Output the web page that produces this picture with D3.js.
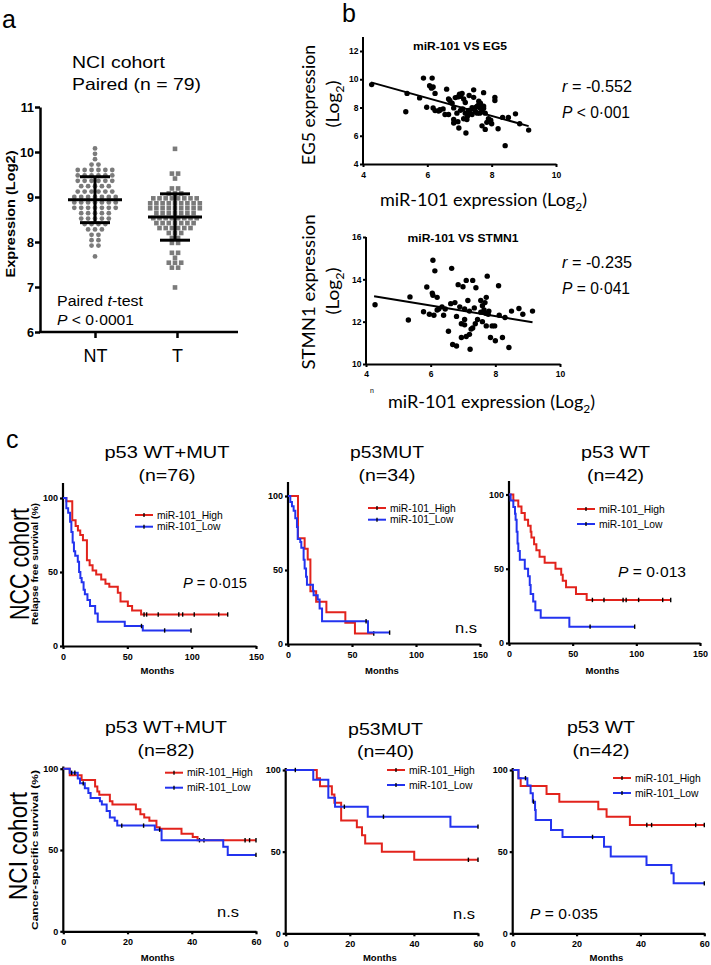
<!DOCTYPE html>
<html>
<head>
<meta charset="utf-8">
<script src="https://cdn.jsdelivr.net/npm/d3@7"></script>
<style>
  body { margin: 0; background: #fff; }
  svg { display: block; }
</style>
</head>
<body>
<script>
// ---------- panel a : paired expression, NCI cohort ----------
var groups = ["NT", "T"];
var groupMean = [8.94, 8.555];
var groupSD = [0.51, 0.515];
var yTicksA = [6, 7, 8, 9, 10, 11];

var ntValues = [10.1, 9.95, 9.83, 9.7, 9.74,
  9.58, 9.61, 9.6, 9.62, 9.57, 9.59,
  9.47, 9.5, 9.45, 9.49, 9.46, 9.51,
  9.35, 9.38, 9.33, 9.37, 9.36, 9.34,
  9.24, 9.22, 9.26, 9.23, 9.25,
  9.12, 9.1, 9.14, 9.11, 9.13, 9.15,
  8.99, 9.01, 9.02, 8.98, 9.0, 9.03, 8.97,
  8.87, 8.89, 8.86, 8.9, 8.88, 8.85, 8.91,
  8.77, 8.75, 8.78, 8.74, 8.76, 8.79, 8.73,
  8.65, 8.63, 8.66, 8.62, 8.64,
  8.52, 8.54, 8.5, 8.53, 8.51,
  8.4, 8.41, 8.38, 8.42,
  8.28, 8.3, 8.27,
  8.16, 8.17,
  8.04, 8.05,
  7.9, 7.93,
  7.64];

var tValues = [10.05,
  9.55, 9.53,
  9.38,
  9.2, 9.18,
  9.1, 9.07, 9.09,
  8.95, 8.97, 8.99, 8.96, 8.98, 8.94, 9.0, 8.97,
  8.85, 8.87, 8.84, 8.86, 8.88, 8.83, 8.86, 8.89, 8.85,
  8.74, 8.76, 8.73, 8.75, 8.77, 8.72, 8.75, 8.78, 8.74,
  8.63, 8.65, 8.62, 8.64, 8.66, 8.61, 8.64,
  8.52, 8.54, 8.51, 8.53, 8.55, 8.5, 8.53, 8.56,
  8.41, 8.43, 8.4, 8.42, 8.44, 8.39, 8.42,
  8.3, 8.32, 8.29, 8.31, 8.33, 8.3,
  8.2, 8.18, 8.21,
  8.08, 8.1,
  7.97, 7.99,
  7.75, 7.77,
  7.64,
  7.53, 7.55, 7.52,
  7.42, 7.44,
  6.98];

// ---------- panel b : correlations ----------
var xTicksB = [4, 6, 8, 10];
var eg5Ticks = [4, 6, 8, 10, 12];
var stmn1Ticks = [10, 12, 14, 16];

var eg5Points = [[4.27, 9.62], [5.37, 9.0], [5.33, 7.7], [5.76, 8.68], [5.88, 10.08], [6.15, 10.08],
  [5.98, 8.02], [6.07, 9.54], [6.13, 9.37], [6.18, 9.45], [6.24, 9.0], [6.24, 7.78], [6.18, 7.97],
  [6.39, 7.85], [6.6, 9.3], [6.66, 8.6], [6.55, 7.5], [6.66, 7.5], [6.82, 7.97], [6.87, 8.7],
  [6.92, 7.6], [7.03, 8.8], [7.08, 9.0], [7.13, 8.6], [7.18, 8.35], [6.98, 6.55], [6.82, 7.15],
  [6.82, 6.9], [7.2, 6.2], [7.23, 7.15], [7.13, 7.2], [7.44, 9.25], [7.3, 8.85], [7.44, 8.72],
  [7.28, 7.8], [7.33, 7.6], [7.39, 7.98], [7.55, 8.1], [7.6, 8.45], [7.65, 8.3], [7.7, 7.8],
  [7.75, 8.1], [7.75, 9.05], [7.63, 7.6], [7.7, 6.7], [7.8, 6.45], [7.85, 6.95], [7.75, 7.95],
  [7.9, 7.2], [7.97, 7.1], [8.0, 6.85], [8.1, 8.72], [8.1, 8.5], [8.2, 6.5], [8.34, 7.3],
  [8.42, 5.3], [8.52, 7.3], [8.74, 7.55], [8.87, 6.85], [9.15, 6.4], [7.39, 7.5], [7.5, 7.7],
  [6.95, 7.0], [7.18, 7.6], [7.03, 7.8], [6.39, 7.8], [6.77, 8.3], [6.49, 7.9], [7.55, 7.6],
  [7.8, 7.6], [7.0, 8.95], [7.5, 8.0], [7.65, 7.95], [6.35, 7.75], [7.25, 7.4], [7.6, 8.2],
  [6.95, 8.75], [7.1, 7.9], [6.7, 8.5]];
var eg5Fit = [[4.25, 9.78], [9.15, 6.68]];

var stmn1Points = [[4.28, 12.8], [5.31, 12.08], [5.36, 13.17], [5.78, 12.47], [5.88, 13.64], [5.96, 12.35],
  [6.05, 13.35], [6.07, 13.25], [6.07, 14.9], [6.13, 14.4], [6.1, 12.3], [6.2, 13.15], [6.2, 12.55],
  [6.25, 12.6], [6.35, 12.7], [6.4, 12.3], [6.45, 12.6], [6.55, 11.55], [6.62, 12.85], [6.65, 14.52],
  [6.68, 10.92], [6.75, 12.9], [6.8, 12.25], [6.8, 10.85], [6.85, 13.75], [6.9, 12.7], [6.95, 11.9],
  [6.95, 11.25], [7.0, 13.65], [7.05, 12.6], [7.05, 12.1], [7.05, 11.85], [7.1, 13.95], [7.1, 11.3],
  [7.15, 13.0], [7.2, 12.5], [7.2, 11.4], [7.22, 10.7], [7.25, 11.65], [7.3, 13.95], [7.3, 11.7],
  [7.35, 12.65], [7.38, 11.9], [7.4, 13.6], [7.45, 12.1], [7.55, 12.45], [7.55, 13.0], [7.6, 12.75],
  [7.6, 12.0], [7.65, 12.55], [7.68, 12.9], [7.7, 12.4], [7.72, 13.15], [7.72, 11.8], [7.75, 14.15],
  [7.78, 12.35], [7.8, 12.5], [7.85, 11.25], [7.9, 11.8], [7.98, 11.8], [8.0, 11.1], [8.1, 13.7],
  [8.12, 12.3], [8.22, 11.25], [8.3, 12.2], [8.42, 10.78], [8.5, 12.5], [8.73, 12.62], [8.85, 12.35],
  [9.15, 12.5]];
var stmn1Fit = [[4.25, 13.2], [9.15, 11.97]];

// ---------- panel c : Kaplan-Meier, [month, survival %] steps ----------
var legendLabels = ["miR-101_High", "miR-101_Low"];
var survTicks = [0, 50, 100];
var nccMonthTicks = [0, 50, 100, 150];
var nciMonthTicks = [0, 20, 40, 60];

var nccAllHigh = [[0, 100], [2.6, 97.8], [7.2, 85], [9.8, 81], [11.6, 78], [13.4, 75], [15.5, 71.5], [18.6, 58],
  [20.7, 54.6], [23, 51], [25.8, 48.3], [29.7, 45], [33, 42], [36, 40], [42.6, 36], [44.7, 30],
  [50.4, 27], [53.7, 24], [60.7, 21.3]];
var nccAllHighCens = [63, 65, 74, 90, 93, 102, 121, 128];
var nccAllLow = [[0, 100], [2.6, 93], [4, 90], [5.5, 84], [6.5, 77], [7.5, 70], [8.5, 64], [9.5, 61],
  [11.5, 57], [12.5, 50], [13.5, 46], [14.5, 43], [16, 38], [17, 35], [19, 31], [21, 27], [25, 22],
  [27, 16.4], [48, 13.5], [62, 10.5]];
var nccAllLowCens = [61, 79, 99.5];

var nccMutHigh = [[0, 100], [7.8, 71.4], [13, 64.3], [15.4, 57.1], [17.5, 35.7], [22, 28.6], [30, 21.4],
  [44.8, 14.3], [52.3, 7.1]];
var nccMutHighCens = [67];
var nccMutLow = [[0, 100], [1.8, 96], [3.1, 93], [4.4, 90], [5.7, 85], [7, 79], [7.6, 71], [9.6, 69],
  [10.4, 65], [12.2, 57], [13, 51], [14.1, 45.5], [14.8, 40], [19.5, 36], [20, 33], [23.2, 30],
  [24.7, 24], [26.6, 15.4], [62.5, 7.7]];
var nccMutLowCens = [61, 79.4];

var nccWtHigh = [[0, 100], [3.4, 96], [7.3, 92], [9.8, 87.5], [12.4, 83], [15, 79], [17, 75], [17.6, 71],
  [19.7, 66.5], [21.5, 62.5], [24, 58], [28, 54], [36.5, 50], [41, 46], [42.2, 42], [44.8, 37.5],
  [52.6, 33], [61, 29]];
var nccWtHighCens = [65.5, 74.6, 89.6, 92, 101.8, 120.7, 127];
var nccWtLow = [[0, 100], [1.3, 96], [3.4, 91.5], [4.7, 87], [5.2, 83], [6, 75], [6.7, 67], [7.3, 62],
  [8.5, 56], [12.4, 50], [15, 45], [16.3, 39], [17, 33], [19, 28], [20.7, 22], [24.9, 17], [47.4, 11]];
var nccWtLowCens = [63.7, 98.7];

var nciAllHigh = [[0, 100], [2, 96], [5.7, 93], [9.9, 89], [10.6, 86], [11.2, 84], [14.5, 80], [15.3, 78],
  [22.6, 75], [24, 72], [25.2, 70], [26.8, 68], [29, 64], [30, 63], [36.8, 60], [40.3, 58], [41.8, 56]];
var nciAllHighCens = [42.4, 43.8, 56.6, 58, 60];
var nciAllLow = [[0, 100], [2, 97.5], [4.5, 94], [5.2, 91], [6.7, 88], [7.8, 85], [8.5, 82], [11.4, 80],
  [12, 78], [13.5, 74], [14.5, 70], [16, 68], [16.8, 65], [28.5, 62.5], [30.6, 56], [49.8, 52], [51.2, 47]];
var nciAllLowCens = [2.6, 3.6, 6.2, 18.2, 25, 30, 60];

var nciMutHigh = [[0, 100], [9.7, 95], [10.7, 90], [14.4, 85], [15.2, 80], [17.3, 69], [22.2, 65],
  [23.8, 60], [24.8, 55], [30, 50], [40.1, 45]];
var nciMutHighCens = [57, 60];
var nciMutLow = [[0, 100], [8.6, 94], [13.3, 83], [15.4, 77.5], [25.6, 71.4], [51.4, 65.3]];
var nciMutLowCens = [3, 18.3, 30.5, 60];

var nciWtHigh = [[0, 100], [1.8, 95], [2.5, 90.2], [10.6, 85.3], [14.6, 80.6], [26.8, 76], [29.4, 71.4],
  [36.7, 66.3]];
var nciWtHighCens = [42, 43.5, 57.3, 60];
var nciWtLow = [[0, 100], [1.8, 95], [4.6, 90.5], [5.6, 85.7], [6.3, 80.6], [7, 75.5], [7.2, 69.4],
  [12, 63.3], [15.6, 59], [28.6, 53], [30.7, 47], [41.9, 41.8], [49.7, 36.7], [50.4, 30.6]];
var nciWtLowCens = [4, 6.5, 25, 60];

// ---------- drawing ----------
var SANS = "'Liberation Sans', Arial, Helvetica, sans-serif";
var CAL = "Lato, 'Open Sans', sans-serif";
var RED = "#e2231c";
var BLUE = "#2333ef";
var GREY = "#7b7b7b";

var svg = d3.select("body").append("svg")
  .attr("width", 711).attr("height", 965);

// parts: string or list of [text, style] where style is "i" (italic) or "sub"
function txt(parent, x, y, parts, o) {
  o = o || {};
  var size = o.size || 12;
  var t = parent.append("text")
    .attr("x", x).attr("y", y)
    .attr("text-anchor", o.anchor || "start")
    .attr("fill", "#000")
    .style("font-family", o.family || SANS)
    .style("font-size", size + "px")
    .style("font-weight", o.bold ? "bold" : "normal");
  if (typeof parts === "string") parts = [[parts]];
  var shifted = false;
  parts.forEach(function(p) {
    var s = t.append("tspan").text(p[0]);
    if (p[1] === "i") s.style("font-style", "italic");
    if (p[1] === "sub") {
      s.style("font-size", (size * 0.66) + "px").attr("dy", size * 0.28);
      shifted = true;
    } else if (shifted) {
      s.attr("dy", -size * 0.28);
      shifted = false;
    }
  });
  if (o.len) t.attr("textLength", o.len).attr("lengthAdjust", "spacingAndGlyphs");
  if (o.rotate) t.attr("transform", "rotate(-90," + x + "," + y + ")");
  return t;
}

function styleAxis(g, sw, fs) {
  g.selectAll("path.domain").attr("stroke-width", sw).attr("stroke", "#000");
  g.selectAll(".tick line").attr("stroke-width", sw).attr("stroke", "#000");
  g.selectAll(".tick text")
    .style("font-family", SANS)
    .style("font-size", fs + "px")
    .style("font-weight", "bold")
    .attr("fill", "#000");
}

// ---- panel letters ----
txt(svg, 2, 28, "a", { size: 25 });
txt(svg, 342, 22, "b", { size: 25 });
txt(svg, 6, 448, "c", { size: 25 });

// ---- panel a ----
(function() {
  var g = svg.append("g");
  var y = d3.scaleLinear().domain([6, 11]).range([332, 107]);
  var x = d3.scalePoint().domain(groups).range([95, 177]);

  txt(g, 72, 68, "NCI cohort", { size: 16.5, len: 93 });
  txt(g, 72, 90, "Paired (n = 79)", { size: 16.5, len: 129 });

  var ay = g.append("g").attr("transform", "translate(40,0)")
    .call(d3.axisLeft(y).tickValues(yTicksA).tickFormat(d3.format("d")).tickSize(5).tickSizeOuter(0).tickPadding(1));
  styleAxis(ay, 2.5, 12.5);

  var ax = g.append("g").attr("transform", "translate(0,332)")
    .call(d3.axisBottom(x).tickSize(6).tickSizeOuter(0).tickPadding(11));
  ax.select(".domain").remove();
  styleAxis(ax, 2.5, 18);
  ax.selectAll(".tick text").style("font-weight", "normal");
  g.append("line").attr("x1", 39).attr("x2", 238).attr("y1", 332).attr("y2", 332)
    .attr("stroke", "#000").attr("stroke-width", 2.5);

  txt(g, 15, 214, [["Expression (Log2)"]], { size: 13, bold: true, anchor: "middle", rotate: true, len: 127 });

  // GraphPad style rows: values binned into rows and spread sideways
  function rows(values, step) {
    var out = [];
    d3.group(values, function(v) { return Math.round((v - 6) / step); }).forEach(function(vals, k) {
      vals.forEach(function(v, i) { out.push({ v: 6 + k * step, off: i - (vals.length - 1) / 2 }); });
    });
    return out;
  }

  g.selectAll("circle.nt").data(rows(ntValues, 0.12)).enter().append("circle")
    .attr("class", "nt")
    .attr("cx", function(d) { return x("NT") + d.off * 6.9; })
    .attr("cy", function(d) { return y(d.v); })
    .attr("r", 2.4).attr("fill", GREY);

  g.selectAll("rect.t").data(rows(tValues, 0.11)).enter().append("rect")
    .attr("class", "t")
    .attr("x", function(d) { return x("T") - 2 + d.off * 6.2 - 2.3; })
    .attr("y", function(d) { return y(d.v) - 2.3; })
    .attr("width", 4.6).attr("height", 4.6).attr("fill", GREY);

  groups.forEach(function(name, i) {
    var cx = name === "T" ? x(name) - 2 : x(name);
    var m = groupMean[i], sd = groupSD[i];
    var bars = [
      [cx - 27, y(m), cx + 27, y(m)],
      [cx - 15, y(m + sd), cx + 15, y(m + sd)],
      [cx - 15, y(m - sd), cx + 15, y(m - sd)],
      [cx, y(m + sd), cx, y(m - sd)]
    ];
    bars.forEach(function(b) {
      g.append("line").attr("x1", b[0]).attr("y1", b[1]).attr("x2", b[2]).attr("y2", b[3])
        .attr("stroke", "#000").attr("stroke-width", 3);
    });
  });

  txt(g, 57, 306, [["Paired "], ["t", "i"], ["-test"]], { size: 15.5, len: 86 });
  txt(g, 57, 325, [["P", "i"], [" < 0\u00b70001"]], { size: 15.5, len: 77 });
})();

// ---- panel b ----
function scatterPanel(pts, fit, ticksY, c) {
  var g = svg.append("g");
  var x = d3.scaleLinear().domain([4, 10]).range([c.x0, c.x1]);
  var y = d3.scaleLinear().domain([ticksY[0], ticksY[ticksY.length - 1]]).range([c.yb, c.yt]);

  var ay = g.append("g").attr("transform", "translate(" + c.x0 + ",0)")
    .call(d3.axisLeft(y).tickValues(ticksY).tickFormat(d3.format("d")).tickSize(3).tickSizeOuter(0).tickPadding(1.5));
  ay.select(".domain").attr("d", "M0," + c.yb + "V" + c.axisTop);
  styleAxis(ay, 2, 8.5);
  var ax = g.append("g").attr("transform", "translate(0," + c.yb + ")")
    .call(d3.axisBottom(x).tickValues(xTicksB).tickFormat(d3.format("d")).tickSize(3).tickSizeOuter(0).tickPadding(c.xPad));
  styleAxis(ax, 2, 8.5);

  g.append("line")
    .attr("x1", x(fit[0][0])).attr("y1", y(fit[0][1]))
    .attr("x2", x(fit[1][0])).attr("y2", y(fit[1][1]))
    .attr("stroke", "#000").attr("stroke-width", 2);

  g.selectAll("circle").data(pts).enter().append("circle")
    .attr("cx", function(d) { return x(d[0]); })
    .attr("cy", function(d) { return y(d[1]); })
    .attr("r", 2.7).attr("fill", "#000");

  txt(g, c.titleX, c.titleY, c.title, { size: 10.7, bold: true, anchor: "middle", len: c.titleLen });
  txt(g, 562, c.rY, [["r", "i"], [" = " + c.r]], { size: 16.3, len: 70 });
  txt(g, 562, c.rY + 26, [["P", "i"], [c.p]], { size: 16.3, len: 68 });
  txt(g, 315, c.labelY, c.ylab, { size: 16.5, family: CAL, anchor: "middle", rotate: true, len: c.ylabLen });
  txt(g, 339, c.labelY - 1, [["(Log"], ["2", "sub"], [")"]], { size: 16.5, family: CAL, anchor: "middle", rotate: true, len: 47 });
  txt(g, c.xlabX, c.xlabY, [["miR-101 expression (Log"], ["2", "sub"], [")"]], { size: 16.5, family: CAL, len: 207 });
  return g;
}

scatterPanel(eg5Points, eg5Fit, eg5Ticks, {
  x0: 363, x1: 556, yb: 164, yt: 51, axisTop: 37, xPad: 5,
  title: "miR-101 VS EG5", titleX: 460, titleY: 50, titleLen: 94,
  r: "-0.552", p: " < 0\u00b7001", rY: 92,
  ylab: "EG5 expression", labelY: 105, ylabLen: 120,
  xlabX: 380, xlabY: 206
});

var gb2 = scatterPanel(stmn1Points, stmn1Fit, stmn1Ticks, {
  x0: 366, x1: 560, yb: 364, yt: 237, axisTop: 237, xPad: 4,
  title: "miR-101 VS STMN1", titleX: 463, titleY: 242, titleLen: 111,
  r: "-0.235", p: " = 0\u00b7041", rY: 268,
  ylab: "STMN1 expression", labelY: 292, ylabLen: 155,
  xlabX: 388, xlabY: 408
});
txt(gb2, 370, 393, "n", { size: 7 });

// ---- panel c ----
function survAt(steps, t) {
  var s = steps[0][1];
  steps.forEach(function(d) { if (d[0] <= t) s = d[1]; });
  return s;
}

var kmPanels = [
  { high: nccAllHigh, hc: nccAllHighCens, low: nccAllLow, lc: nccAllLowCens, ticks: nccMonthTicks,
    x0: 63, x1: 256, y0: 646, y100: 498, yTop: 483, titleX: 167, t1: 458, t2: 481, title: "p53 WT+MUT", tLen: 125,
    n: "(n=76)", monthsY: 674, lx: 135, ly: 515, lgap: 11.7, note: [["P", "i"], [" = 0\u00b7015"]], nx: 183, ny: 588, nLen: 64 },
  { high: nccMutHigh, hc: nccMutHighCens, low: nccMutLow, lc: nccMutLowCens, ticks: nccMonthTicks,
    x0: 288, x1: 480, y0: 644, y100: 496, yTop: 482, titleX: 387, t1: 458, t2: 481, title: "p53MUT", tLen: 74,
    n: "(n=34)", monthsY: 674, lx: 368, ly: 508, lgap: 11.7, note: "n.s", nx: 455, ny: 633, nLen: 22 },
  { high: nccWtHigh, hc: nccWtHighCens, low: nccWtLow, lc: nccWtLowCens, ticks: nccMonthTicks,
    x0: 509, x1: 700, y0: 643, y100: 494.5, yTop: 481, titleX: 615.5, t1: 458, t2: 481, title: "p53 WT", tLen: 69,
    n: "(n=42)", monthsY: 674, lx: 577, ly: 509, lgap: 15, note: [["P", "i"], [" = 0\u00b7013"]], nx: 618, ny: 577, nLen: 68 },
  { high: nciAllHigh, hc: nciAllHighCens, low: nciAllLow, lc: nciAllLowCens, ticks: nciMonthTicks,
    x0: 63.3, x1: 256, y0: 931.3, y100: 768.7, yTop: 766.5, titleX: 166, t1: 733, t2: 756, title: "p53 WT+MUT", tLen: 122,
    n: "(n=82)", monthsY: 961, lx: 165, ly: 772.7, lgap: 15, note: "n.s", nx: 217, ny: 917, nLen: 22 },
  { high: nciMutHigh, hc: nciMutHighCens, low: nciMutLow, lc: nciMutLowCens, ticks: nciMonthTicks,
    x0: 285.7, x1: 478, y0: 933.3, y100: 770, yTop: 768, titleX: 385.5, t1: 735, t2: 757, title: "p53MUT", tLen: 75,
    n: "(n=40)", monthsY: 961, lx: 387, ly: 770, lgap: 15, note: "n.s", nx: 453, ny: 919, nLen: 22 },
  { high: nciWtHigh, hc: nciWtHighCens, low: nciWtLow, lc: nciWtLowCens, ticks: nciMonthTicks,
    x0: 512.7, x1: 704.3, y0: 933.3, y100: 770, yTop: 768, titleX: 601, t1: 733, t2: 756, title: "p53 WT", tLen: 68,
    n: "(n=42)", monthsY: 961, lx: 613, ly: 778, lgap: 15, note: [["P", "i"], [" = 0\u00b7035"]], nx: 530, ny: 919, nLen: 68 }
];

kmPanels.forEach(function(p) {
  var g = svg.append("g");
  var xMax = p.ticks[p.ticks.length - 1];
  var x = d3.scaleLinear().domain([0, xMax]).range([p.x0, p.x1]);
  var y = d3.scaleLinear().domain([0, 100]).range([p.y0, p.y100]);

  var ay = g.append("g").attr("transform", "translate(" + p.x0 + ",0)")
    .call(d3.axisLeft(y).tickValues(survTicks).tickSize(3).tickSizeOuter(0).tickPadding(2));
  ay.select(".domain").attr("d", "M0," + (p.y0 + 1) + "V" + p.yTop);
  styleAxis(ay, 2.2, 9);
  var ax = g.append("g").attr("transform", "translate(0," + p.y0 + ")")
    .call(d3.axisBottom(x).tickValues(p.ticks).tickSize(3).tickSizeOuter(0).tickPadding(4.5));
  styleAxis(ax, 2.2, 9);

  var line = d3.line()
    .x(function(d) { return x(d[0]); })
    .y(function(d) { return y(d[1]); })
    .curve(d3.curveStepAfter);

  [[p.high, p.hc, RED], [p.low, p.lc, BLUE]].forEach(function(s) {
    var steps = s[0], cens = s[1];
    var end = Math.max(d3.max(cens), steps[steps.length - 1][0]);
    var pts = steps.concat([[end, steps[steps.length - 1][1]]]);
    g.append("path").attr("d", line(pts))
      .attr("fill", "none").attr("stroke", s[2]).attr("stroke-width", 2);
    g.selectAll(null).data(cens).enter().append("line")
      .attr("x1", function(t) { return x(t); }).attr("x2", function(t) { return x(t); })
      .attr("y1", function(t) { return y(survAt(steps, t)) - 2.2; })
      .attr("y2", function(t) { return y(survAt(steps, t)) + 2.2; })
      .attr("stroke", "#000").attr("stroke-width", 1.4);
  });

  // legend
  [RED, BLUE].forEach(function(col, i) {
    var yy = p.ly + i * p.lgap;
    g.append("line").attr("x1", p.lx).attr("x2", p.lx + 18).attr("y1", yy).attr("y2", yy)
      .attr("stroke", col).attr("stroke-width", 2);
    g.append("line").attr("x1", p.lx + 9).attr("x2", p.lx + 9).attr("y1", yy - 2).attr("y2", yy + 2)
      .attr("stroke", "#000").attr("stroke-width", 1.3);
    txt(g, p.lx + 22, yy + 3.6, legendLabels[i], { size: 10.3 });
  });

  txt(g, p.titleX, p.t1, p.title, { size: 16.5, anchor: "middle", len: p.tLen });
  txt(g, p.titleX, p.t2, p.n, { size: 16.5, anchor: "middle", len: 57 });
  txt(g, (p.x0 + p.x1) / 2 - 2, p.monthsY, "Months", { size: 9.5, bold: true, anchor: "middle" });
  txt(g, p.nx, p.ny, p.note, { size: 15.5, len: p.nLen });
});

// row labels
txt(svg, 29, 564, "NCC cohort", { size: 27, anchor: "middle", rotate: true, len: 112 });
txt(svg, 38, 564, "Relapse free survival (%)", { size: 9.8, bold: true, anchor: "middle", rotate: true, len: 122 });
txt(svg, 27, 846, "NCI cohort", { size: 26, anchor: "middle", rotate: true, len: 108 });
txt(svg, 38, 850, "Cancer-specific survival (%)", { size: 9.8, bold: true, anchor: "middle", rotate: true, len: 160 });
</script>
</body>
</html>
